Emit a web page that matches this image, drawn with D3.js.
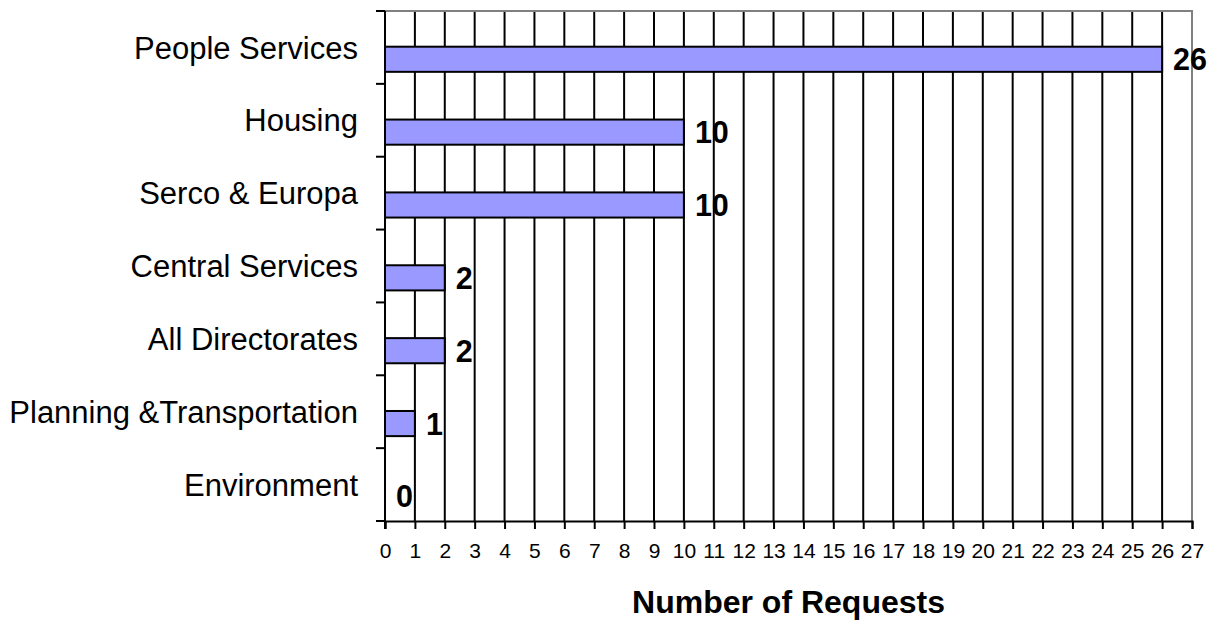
<!DOCTYPE html>
<meta charset="utf-8">
<html>
<script src="https://d3js.org/d3.v7.min.js"></script>
<style>
  body { margin: 0; background: #fff; }
  text { font-family: Arial, "Liberation Sans", sans-serif; }
</style>
<body>
<div id="my_dataviz"></div>
<script>
    // data
    const categories = ["People Services", "Housing", "Serco & Europa", "Central Services",
                        "All Directorates", "Planning &Transportation", "Environment"];
    const requests = [26, 10, 10, 2, 2, 1, 0];
    const xTicks = d3.range(0, 28);

    const width = 1211, height = 621;
    const margin = {top: 11, right: 19, bottom: 100, left: 385};
    const innerW = width - margin.left - margin.right,
          innerH = height - margin.top - margin.bottom;

    const svg = d3.select("#my_dataviz")
      .append("svg")
        .attr("width", width)
        .attr("height", height);

    const g = svg.append("g")
        .attr("transform", `translate(${margin.left}, ${margin.top})`);

    const x = d3.scaleLinear().domain([0, 27]).range([0, innerW]);
    const y = d3.scaleBand().domain(categories).range([0, innerH]).padding(0);
    const bw = y.bandwidth();

    // vertical gridlines
    g.selectAll("line.grid")
      .data(xTicks.filter(d => d > 0 && d < 27))
      .join("line")
        .attr("class", "grid")
        .attr("x1", d => x(d)).attr("x2", d => x(d))
        .attr("y1", 0).attr("y2", innerH)
        .attr("stroke", "#000")
        .attr("stroke-width", 2);

    // plot border top + right (grey)
    g.append("path")
      .attr("d", `M0,0H${x(27)}V${innerH}`)
      .attr("fill", "none")
      .attr("stroke", "#808080")
      .attr("stroke-width", 2);

    // bars
    const data = categories.map((c, i) => ({cat: c, val: requests[i]}));
    g.selectAll("rect.bar")
      .data(data.filter(d => d.val > 0))
      .join("rect")
        .attr("class", "bar")
        .attr("x", x(0))
        .attr("y", d => y(d.cat) + bw * 0.49)
        .attr("width", d => x(d.val) - x(0))
        .attr("height", bw * 0.345)
        .attr("fill", "#9999ff")
        .attr("stroke", "#000")
        .attr("stroke-width", 2);

    // value labels
    g.selectAll("text.val")
      .data(data)
      .join("text")
        .attr("class", "val")
        .attr("x", d => x(d.val) + 11)
        .attr("y", d => y(d.cat) + bw * 0.49 + bw * 0.345 / 2)
        .attr("dy", "0.36em")
        .style("font-size", "30.5px")
        .style("font-weight", "bold")
        .text(d => d.val);

    // x axis
    const xAxis = g.append("g")
      .attr("transform", `translate(0, ${innerH})`)
      .call(d3.axisBottom(x).tickValues(xTicks).tickSize(8).tickPadding(14).tickFormat(d3.format("d")));
    xAxis.select(".domain").attr("stroke", "#000").attr("stroke-width", 2);
    xAxis.selectAll(".tick line").attr("stroke", "#000").attr("stroke-width", 2);
    xAxis.selectAll(".tick text")
      .style("font-size", "21px")
      .style("font-family", "Arial, 'Liberation Sans', sans-serif")
      .attr("fill", "#000");

    // y axis: line with ticks at band boundaries
    g.append("line")
      .attr("x1", 0).attr("x2", 0)
      .attr("y1", 0).attr("y2", innerH + 8)
      .attr("stroke", "#000").attr("stroke-width", 2);
    const bounds = categories.map(c => y(c)).concat([innerH]);
    g.selectAll("line.ytick")
      .data(bounds)
      .join("line")
        .attr("class", "ytick")
        .attr("x1", -9).attr("x2", 0)
        .attr("y1", d => d).attr("y2", d => d)
        .attr("stroke", "#000").attr("stroke-width", 2);

    g.selectAll("text.cat")
      .data(categories)
      .join("text")
        .attr("class", "cat")
        .attr("x", -27)
        .attr("y", d => y(d) + bw / 2)
        .attr("dy", "0.36em")
        .attr("text-anchor", "end")
        .style("font-size", "31px")
        .text(d => d);

    // axis title
    svg.append("text")
      .attr("x", margin.left + innerW / 2)
      .attr("y", 613)
      .attr("text-anchor", "middle")
      .style("font-size", "32px")
      .style("font-weight", "bold")
      .text("Number of Requests");
</script>
</body>
</html>
